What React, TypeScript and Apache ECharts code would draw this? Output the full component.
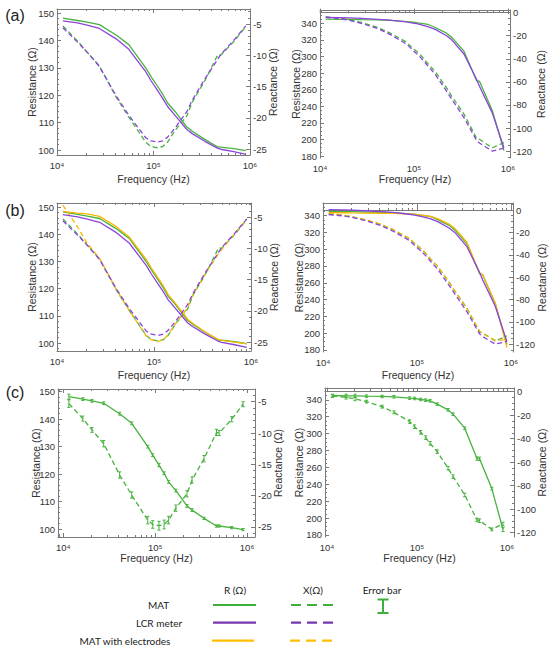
import React, { useEffect, useRef } from "react";
import * as echarts from "echarts";

// ---------- data ----------
const freq = [11500, 16300, 20500, 27500, 41000, 55500, 83000, 94000, 110000, 125000, 140000, 168000, 222000, 252000, 340000, 465000, 497000, 680000, 905000];

// column 1 (low range)
const matR1 = [148.2, 147.3, 146.7, 145.8, 142.0, 138.5, 130.0, 126.9, 123.3, 120.3, 117.2, 114.0, 108.4, 106.9, 103.9, 101.1, 101.1, 100.5, 99.8];
const matX1 = [-5.3, -7.7, -9.5, -11.7, -16.7, -19.9, -23.9, -24.6, -24.8, -24.6, -23.9, -22.0, -19.7, -17.5, -14.1, -9.9, -10.0, -7.8, -5.4];
const lcrR1 = [147.2, 146.4, 145.6, 144.4, 140.6, 136.8, 128.6, 125.4, 121.8, 118.8, 115.9, 112.6, 107.5, 106.0, 103.2, 100.6, 100.3, 99.4, 98.4];
const lcrX1 = [-5.6, -7.9, -9.5, -11.8, -16.5, -19.6, -23.2, -23.7, -23.9, -23.7, -23.1, -21.6, -19.0, -17.2, -13.8, -10.6, -9.9, -7.6, -5.3];
const elecR1 = [148.4, 147.8, 147.5, 146.6, 142.8, 139.0, 130.8, 127.6, 124.0, 121.0, 117.8, 114.4, 108.8, 107.2, 104.0, 101.2, 101.0, 100.4, 99.7];
const elecX1 = [-3.1, -6.6, -9.2, -11.6, -16.6, -19.9, -24.0, -24.6, -24.9, -24.6, -23.8, -22.0, -19.5, -17.4, -14.0, -10.8, -10.2, -7.6, -5.3];
const errR1 = [0.9, 0.5, 0.5, 0.5, 0.5, 0.5, 0.5, 0.5, 0.6, 0.5, 0.5, 0.5, 0.5, 0.5, 0.4, 0.4, 0.4, 0.4, 0.4];
const errX1 = [0.6, 0.4, 0.4, 0.5, 0.5, 0.5, 0.6, 0.6, 0.7, 0.7, 0.6, 0.5, 0.5, 0.5, 0.5, 0.5, 0.4, 0.4, 0.4];

// column 2 (high range)
const matR2 = [345.1, 344.7, 344.7, 344.3, 344.0, 343.6, 342.0, 341.6, 340.4, 339.6, 338.8, 334.9, 328.1, 323.0, 306.4, 270.5, 270.1, 234.9, 186.5];
const matX2 = [-3.7, -4.8, -6.2, -8.5, -12.8, -17.6, -25.5, -29.8, -34.6, -39.1, -44.0, -51.1, -65.2, -72.3, -87.9, -109.2, -109.8, -117.2, -112.6];
const lcrR2 = [347.2, 346.8, 346.4, 345.8, 344.8, 343.8, 341.6, 340.6, 339.2, 337.6, 336.0, 332.6, 325.0, 320.0, 303.0, 272.0, 264.0, 232.0, 190.0];
const lcrX2 = [-4.0, -5.2, -6.6, -9.2, -13.8, -18.8, -27.2, -31.5, -36.5, -41.2, -46.0, -53.5, -68.0, -75.0, -91.0, -111.0, -113.0, -120.0, -117.5];
const elecR2 = [343.6, 343.4, 343.2, 343.0, 342.8, 342.6, 341.8, 341.4, 340.6, 339.8, 339.0, 336.0, 329.5, 325.0, 308.0, 271.0, 270.0, 236.0, 183.0];
const elecX2 = [-3.0, -4.5, -6.0, -8.3, -12.6, -17.4, -25.4, -29.6, -34.4, -39.0, -44.0, -51.0, -65.5, -72.5, -88.5, -108.5, -110.5, -116.5, -116.0];
const errR2 = [1.5, 2.0, 2.0, 1.5, 1.5, 1.5, 1.5, 1.5, 1.5, 1.5, 1.5, 1.5, 1.5, 1.5, 1.5, 2.0, 2.0, 1.5, 2.5];
const errX2 = [1.2, 1.5, 1.5, 1.2, 1.2, 1.2, 1.5, 1.5, 1.5, 1.5, 1.5, 1.5, 1.5, 1.5, 1.5, 1.5, 1.5, 1.2, 1.5];

// tick labels
const freqTicks = [1e4, 1e5, 1e6];
const rTicks1 = [100, 110, 120, 130, 140, 150];
const xTicks1 = [-25, -20, -15, -10, -5];
const rTicks2 = [180, 200, 220, 240, 260, 280, 300, 320, 340];
const xTicks2 = [-120, -100, -80, -60, -40, -20, 0];

const panelLabels = ["(a)", "(b)", "(c)"];
const legendRows = ["MAT", "LCR meter", "MAT with electrodes"];
const legendHeads = ["R (Ω)", "X(Ω)", "Error bar"];

// ---------- styles ----------
const GREEN = "#47b23e";
const PURPLE = "#8c44dc";
const YELLOW = "#f6b900";
const LG_GREEN = "#3daf3a";
const LG_PURPLE = "#7636b0";
const LG_YELLOW = "#ffbf00";
const FRAME = "#7a7a7a";
const TXT = "#333";
const FONT = "Liberation Sans, Arial, DejaVu Sans, sans-serif";

type Panel = {
  left: number; top: number; width: number; height: number;
  fmin: number; fmax: number; rmin: number; rmax: number; xmin: number; xmax: number;
  kind: 1 | 2; set: "ab" | "b" | "c";
  nameL: number; nameR: number; nameF: number;
};

const panels: Panel[] = [
  { left: 57, top: 9, width: 193, height: 146, fmin: 1e4, fmax: 1e6, rmin: 98.2, rmax: 151.5, xmin: -25.96, xmax: -2.6, kind: 1, set: "ab", nameL: 32, nameR: 273, nameF: 179 },
  { left: 320, top: 10, width: 190, height: 148, fmin: 1e4, fmax: 1.05e6, rmin: 177.6, rmax: 356, xmin: -126, xmax: 2.3, kind: 2, set: "ab", nameL: 296, nameR: 541, nameF: 179 },
  { left: 57, top: 203, width: 194, height: 148, fmin: 1e4, fmax: 1e6, rmin: 97.1, rmax: 151.5, xmin: -26.4, xmax: -2.76, kind: 1, set: "b", nameL: 32, nameR: 274, nameF: 375 },
  { left: 323, top: 203, width: 190, height: 149, fmin: 1e4, fmax: 1.05e6, rmin: 177.6, rmax: 355, xmin: -127, xmax: 6.3, kind: 2, set: "b", nameL: 299, nameR: 541.5, nameF: 375 },
  { left: 58, top: 389, width: 197, height: 148, fmin: 8750, fmax: 1.22e6, rmin: 97.1, rmax: 151, xmin: -26.6, xmax: -2.97, kind: 1, set: "c", nameL: 36, nameR: 278, nameF: 558 },
  { left: 325, top: 388, width: 189, height: 149, fmin: 9500, fmax: 1.2e6, rmin: 177.6, rmax: 354, xmin: -123.7, xmax: 3.1, kind: 2, set: "c", nameL: 299, nameR: 541.5, nameF: 558 },
];

const SUP: Record<string, string> = { "3": "³", "4": "⁴", "5": "⁵", "6": "⁶", "7": "⁷" };

function minorLog(min: number, max: number) {
  const out: number[] = [];
  for (let d = 3; d <= 6; d++) {
    for (let k = 2; k <= 9; k++) {
      const v = k * Math.pow(10, d);
      if (v > min && v < max) out.push(v);
    }
  }
  return out;
}
function minorLin(min: number, max: number, step: number, major: number) {
  const out: number[] = [];
  const start = Math.ceil(min / step) * step;
  for (let v = start; v <= max + 1e-9; v += step) {
    const r = Math.round(v * 1000) / 1000;
    if (Math.abs(r / major - Math.round(r / major)) > 1e-6) out.push(r);
  }
  return out;
}

function pairs(vals: number[]) {
  return freq.map((f, i) => [f, vals[i]]);
}

function buildOption() {
  const grid: any[] = [];
  const xAxis: any[] = [];
  const yAxis: any[] = [];
  const series: any[] = [];
  const graphic: any[] = [];

  const frameLine = { show: true, lineStyle: { color: FRAME, width: 1 } };
  const tickStyle = { color: FRAME, width: 1 };
  const labelBase = { color: TXT, fontSize: 9.5, fontFamily: FONT };

  panels.forEach((p, i) => {
    grid.push({ left: p.left, top: p.top, width: p.width, height: p.height, containLabel: false });
    const xb = { type: "log", logBase: 10, min: p.fmin, max: p.fmax, gridIndex: i, splitLine: { show: false }, minorTick: { show: false } };
    const fMinor = minorLog(p.fmin, p.fmax);
    xAxis.push({
      ...xb, position: "bottom", axisLine: frameLine,
      axisTick: { show: true, inside: true, length: 4, customValues: freqTicks, lineStyle: tickStyle },
      axisLabel: {
        ...labelBase, margin: 5, customValues: freqTicks,
        formatter: (v: number) => "10" + SUP[String(Math.round(Math.log10(v)))],
      },
    });
    xAxis.push({ ...xb, position: "bottom", axisLine: { show: false }, axisTick: { show: true, inside: true, length: 2, customValues: fMinor, lineStyle: tickStyle }, axisLabel: { show: false } });
    xAxis.push({ ...xb, position: "top", axisLine: frameLine, axisTick: { show: true, inside: true, length: 4, customValues: freqTicks, lineStyle: tickStyle }, axisLabel: { show: false } });
    xAxis.push({ ...xb, position: "top", axisLine: { show: false }, axisTick: { show: true, inside: true, length: 2, customValues: fMinor, lineStyle: tickStyle }, axisLabel: { show: false } });

    const rT = p.kind === 1 ? rTicks1 : rTicks2;
    const xT = p.kind === 1 ? xTicks1 : xTicks2;
    const rMinor = p.kind === 1 ? minorLin(p.rmin, p.rmax, 2, 10) : minorLin(p.rmin, p.rmax, 5, 20);
    const xMinor = p.kind === 1 ? minorLin(p.xmin, p.xmax, 1, 5) : minorLin(p.xmin, p.xmax, 5, 20);
    const yl = { type: "value", gridIndex: i, min: p.rmin, max: p.rmax, splitLine: { show: false } };
    const yr = { type: "value", gridIndex: i, min: p.xmin, max: p.xmax, splitLine: { show: false } };
    yAxis.push({ ...yl, position: "left", axisLine: frameLine, axisTick: { show: true, inside: true, length: 4, customValues: rT, lineStyle: tickStyle }, axisLabel: { ...labelBase, margin: 3, customValues: rT } });
    yAxis.push({ ...yl, position: "left", axisLine: { show: false }, axisTick: { show: true, inside: true, length: 2, customValues: rMinor, lineStyle: tickStyle }, axisLabel: { show: false } });
    yAxis.push({ ...yr, position: "right", axisLine: frameLine, axisTick: { show: true, inside: true, length: 4, customValues: xT, lineStyle: tickStyle }, axisLabel: { ...labelBase, margin: 3, customValues: xT } });
    yAxis.push({ ...yr, position: "right", axisLine: { show: false }, axisTick: { show: true, inside: true, length: 2, customValues: xMinor, lineStyle: tickStyle }, axisLabel: { show: false } });

    const xi = 4 * i;
    const line = (name: string, vals: number[], color: string, dashed: boolean, right: boolean, z: number) => ({
      type: "line", name, xAxisIndex: xi, yAxisIndex: right ? xi + 2 : xi, data: pairs(vals),
      symbol: "none", smooth: false, z,
      lineStyle: { color, width: 1.3, type: dashed ? [5, 3] : "solid" },
    });
    const R = p.kind === 1 ? { mat: matR1, lcr: lcrR1, el: elecR1 } : { mat: matR2, lcr: lcrR2, el: elecR2 };
    const X = p.kind === 1 ? { mat: matX1, lcr: lcrX1, el: elecX1 } : { mat: matX2, lcr: lcrX2, el: elecX2 };

    if (p.set === "ab" || p.set === "b") {
      series.push(line("MAT R", R.mat, GREEN, false, false, 3));
      series.push(line("MAT X", X.mat, GREEN, true, true, 3));
      if (p.set === "b") {
        series.push(line("MAT with electrodes R", R.el, YELLOW, false, false, 4));
        series.push(line("MAT with electrodes X", X.el, YELLOW, true, true, 4));
      }
      series.push(line("LCR meter R", R.lcr, PURPLE, false, false, 5));
      series.push(line("LCR meter X", X.lcr, PURPLE, true, true, 5));
    } else {
      series.push(line("MAT R", R.mat, GREEN, false, false, 3));
      series.push(line("MAT X", X.mat, GREEN, true, true, 3));
      const eR = p.kind === 1 ? errR1 : errR2;
      const eX = p.kind === 1 ? errX1 : errX2;
      const errSeries = (vals: number[], errs: number[], right: boolean) => ({
        type: "custom", xAxisIndex: xi, yAxisIndex: right ? xi + 2 : xi, z: 6,
        data: freq.map((f, j) => [f, vals[j], errs[j]]),
        encode: { x: 0, y: 1 },
        renderItem: (_params: any, api: any) => {
          const fx = api.value(0), v = api.value(1), e = api.value(2);
          const a = api.coord([fx, v + e]);
          const b = api.coord([fx, v - e]);
          const w = 1.6;
          const st = { stroke: GREEN, lineWidth: 1 };
          return {
            type: "group",
            children: [
              { type: "line", shape: { x1: a[0], y1: a[1], x2: b[0], y2: b[1] }, style: st },
              { type: "line", shape: { x1: a[0] - w, y1: a[1], x2: a[0] + w, y2: a[1] }, style: st },
              { type: "line", shape: { x1: b[0] - w, y1: b[1], x2: b[0] + w, y2: b[1] }, style: st },
            ],
          };
        },
      });
      series.push(errSeries(R.mat, eR, false));
      series.push(errSeries(X.mat, eX, true));
    }

    const cy = p.top + p.height / 2;
    const nameStyle = { fill: TXT, fontSize: 10.5, fontFamily: FONT, align: "center", verticalAlign: "middle" };
    graphic.push({ type: "text", x: p.nameL, y: cy, rotation: Math.PI / 2, style: { ...nameStyle, text: "Resistance (Ω)" } });
    graphic.push({ type: "text", x: p.nameR, y: cy, rotation: Math.PI / 2, style: { ...nameStyle, text: "Reactance (Ω)" } });
    graphic.push({ type: "text", x: p.left + p.width / 2, y: p.nameF, style: { ...nameStyle, text: "Frequency (Hz)" } });
  });

  // panel letters
  const letterY = [15.5, 210.5, 392];
  panelLabels.forEach((t, k) => {
    graphic.push({ type: "text", x: 15, y: letterY[k], style: { text: t, fill: "#222", fontSize: 16, fontFamily: FONT, align: "center", verticalAlign: "middle" } });
  });

  // legend
  const LFONT = "Lato, Liberation Sans, sans-serif";
  const lt = (text: string, x: number, y: number) => ({ type: "text", x, y, style: { text, fill: "#222", fontSize: 10, fontFamily: LFONT, align: "center", verticalAlign: "middle" } });
  graphic.push(lt(legendHeads[0], 235, 590));
  graphic.push(lt(legendHeads[1], 313, 590));
  graphic.push(lt(legendHeads[2], 382, 590));
  graphic.push(lt(legendRows[0], 158.5, 605));
  graphic.push(lt(legendRows[1], 159, 622.5));
  graphic.push(lt(legendRows[2], 125, 641));
  const rowsY = [605, 622.7, 640.7];
  const rowsC = [LG_GREEN, LG_PURPLE, LG_YELLOW];
  rowsY.forEach((y, k) => {
    graphic.push({ type: "line", shape: { x1: k === 2 ? 212 : 213, y1: y, x2: k === 2 ? 254 : 256, y2: y }, style: { stroke: rowsC[k], lineWidth: 2.2 } });
    graphic.push({ type: "line", shape: { x1: k === 2 ? 290 : 291, y1: y, x2: k === 2 ? 332 : 333, y2: y }, style: { stroke: rowsC[k], lineWidth: 2.2, lineDash: [10, 6] } });
  });
  const eb = { stroke: LG_GREEN, lineWidth: 2 };
  graphic.push({ type: "line", shape: { x1: 383, y1: 599.5, x2: 383, y2: 613 }, style: eb });
  graphic.push({ type: "line", shape: { x1: 377.5, y1: 599.5, x2: 388.5, y2: 599.5 }, style: eb });
  graphic.push({ type: "line", shape: { x1: 377.5, y1: 613, x2: 388.5, y2: 613 }, style: eb });

  return {
    animation: false,
    backgroundColor: "#ffffff",
    grid, xAxis, yAxis, series, graphic,
  };
}

export default function App() {
  const ref = useRef<HTMLDivElement>(null);
  useEffect(() => {
    if (!ref.current) return;
    const chart = echarts.init(ref.current, undefined, { renderer: "svg" });
    chart.setOption(buildOption() as any);
    return () => chart.dispose();
  }, []);
  return <div ref={ref} style={{ position: "absolute", left: 0, top: 0, width: 550, height: 646, background: "#fff" }} />;
}
